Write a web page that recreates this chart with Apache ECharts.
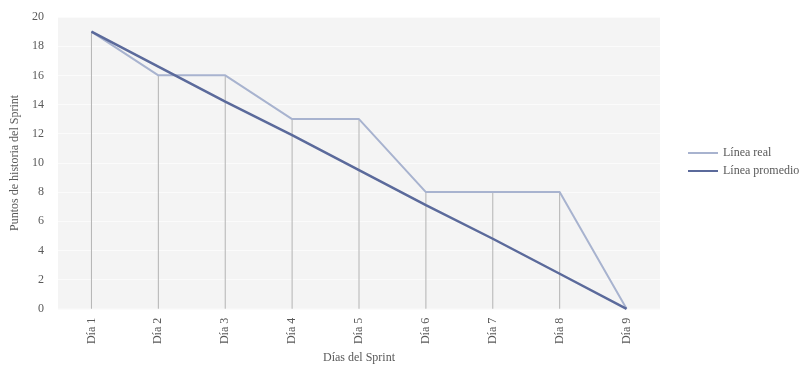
<!DOCTYPE html>
<html>
<head>
<meta charset="utf-8">
<script src="https://cdn.jsdelivr.net/npm/echarts@6/dist/echarts.min.js"></script>
<style>
  html, body { margin: 0; padding: 0; background: #fff; }
  #chart { width: 812px; height: 369px; }
</style>
</head>
<body>
<div id="chart"></div>
<script>
var dias = ['Día 1', 'Día 2', 'Día 3', 'Día 4', 'Día 5', 'Día 6', 'Día 7', 'Día 8', 'Día 9'];
var lineaReal = [19, 16, 16, 13, 13, 8, 8, 8, 0];
var lineaPromedio = [19, 16.6, 14.2, 11.9, 9.5, 7.1, 4.8, 2.4, 0];
var yTicks = [0, 2, 4, 6, 8, 10, 12, 14, 16, 18, 20];

var font = '"Liberation Serif", "DejaVu Serif", serif';
var myChart;

document.addEventListener("DOMContentLoaded", function() {
    myChart = echarts.init(document.getElementById('chart'));
    var option = {
        animation: false,
        textStyle: { fontFamily: font },
        grid: {
            left: 58, right: 152, top: 17, bottom: 56,
            show: true,
            backgroundColor: '#f4f4f4',
            borderWidth: 0
        },
        legend: {
            orient: 'vertical',
            left: 688,
            top: 147,
            padding: 0,
            itemWidth: 30,
            itemHeight: 2,
            itemGap: 6,
            icon: 'rect',
            textStyle: { fontFamily: font, fontSize: 12, color: '#595959' },
            data: ['Línea real', 'Línea promedio']
        },
        xAxis: {
            type: 'category',
            data: dias,
            boundaryGap: true,
            name: 'Días del Sprint',
            nameLocation: 'middle',
            nameGap: 43,
            nameTextStyle: { fontFamily: font, fontSize: 12, color: '#595959' },
            axisLine: { show: false },
            axisTick: { show: false },
            axisLabel: { rotate: 90, margin: 9, fontSize: 12, color: '#595959', fontFamily: font },
            splitLine: { show: false }
        },
        yAxis: {
            type: 'value',
            min: yTicks[0],
            max: yTicks[yTicks.length - 1],
            interval: 2,
            name: 'Puntos de historia del Sprint',
            nameLocation: 'middle',
            nameGap: 33,
            nameTextStyle: { fontFamily: font, fontSize: 12, color: '#595959' },
            axisLine: { show: false },
            axisTick: { show: false },
            axisLabel: { fontSize: 12, color: '#595959', fontFamily: font, margin: 14 },
            splitLine: { lineStyle: { color: '#fbfbfb', width: 1 } }
        },
        series: [{
            name: 'caida',
            type: 'bar',
            data: lineaReal,
            barWidth: 1,
            itemStyle: { color: '#b3b3b3' },
            silent: true,
            z: 1
        }, {
            name: 'Línea real',
            type: 'line',
            data: lineaReal,
            showSymbol: false,
            lineStyle: { color: '#a8b3cf', width: 2 },
            itemStyle: { color: '#a8b3cf' },
            z: 3
        }, {
            name: 'Línea promedio',
            type: 'line',
            data: lineaPromedio,
            showSymbol: false,
            lineStyle: { color: '#5b6a9b', width: 2.5 },
            itemStyle: { color: '#5b6a9b' },
            z: 4
        }]
    };
    myChart.setOption(option);
});
</script>
</body>
</html>
